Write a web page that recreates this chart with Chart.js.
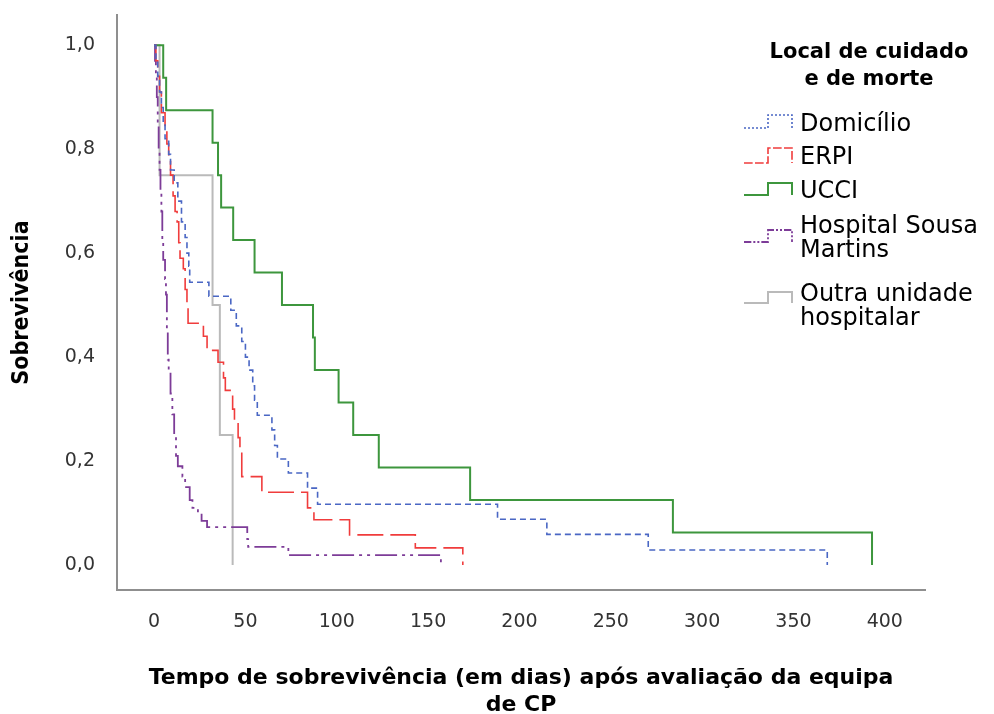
<!DOCTYPE html>
<html>
<head>
<meta charset="utf-8">
<script src="https://cdn.jsdelivr.net/npm/chart.js@4.4.1/dist/chart.umd.min.js"></script>
<style>
  html, body { margin: 0; padding: 0; background: #fff; }
  #wrap { position: relative; width: 994px; height: 714px; }
</style>
</head>
<body>
<div id="wrap"><canvas id="chart"></canvas></div>
<script>
// Curvas de Kaplan-Meier (dia do evento -> sobrevivência após o evento)
const domicilioDias = [0, 1, 2, 3, 4, 5, 6, 8, 9, 11, 13, 15, 17, 18, 19, 19.5, 30, 42, 45, 48, 50, 52, 54, 55, 56.5, 64.5, 66, 67.5, 73.5, 84, 89.5, 188, 215, 270.5, 368.5];
const domicilioSobrev = [1, 0.97, 0.94, 0.91, 0.88, 0.85, 0.82, 0.79, 0.76, 0.735, 0.70, 0.66, 0.63, 0.60, 0.575, 0.544, 0.517, 0.49, 0.46, 0.43, 0.40, 0.375, 0.345, 0.317, 0.288, 0.26, 0.23, 0.204, 0.177, 0.148, 0.117, 0.088, 0.059, 0.029, 0];

const erpiDias = [0, 1, 2, 3, 4, 6, 7, 8, 9, 10.4, 11.5, 12.6, 13.5, 14.2, 16, 17, 18, 18.6, 27, 29, 35, 38, 39, 43, 44, 46, 47, 48, 59, 84, 87.5, 107, 143, 169];
const erpiSobrev = [1, 0.97, 0.94, 0.91, 0.87, 0.84, 0.81, 0.785, 0.75, 0.71, 0.68, 0.66, 0.62, 0.59, 0.57, 0.53, 0.50, 0.465, 0.44, 0.413, 0.39, 0.36, 0.336, 0.30, 0.273, 0.245, 0.215, 0.17, 0.14, 0.11, 0.087, 0.058, 0.033, 0];

const ucciDias = [0, 5, 6.6, 32, 35, 36.7, 43.3, 55, 70, 87, 88, 101, 109, 123, 173, 284, 393];
const ucciSobrev = [1, 0.9375, 0.875, 0.8125, 0.75, 0.6875, 0.625, 0.5625, 0.5, 0.4375, 0.375, 0.3125, 0.25, 0.1875, 0.125, 0.0625, 0];

const hsmDias = [0, 0.5, 1, 1.5, 2, 2.5, 3, 3.5, 4, 4.5, 5, 6, 6.5, 7, 7.5, 8, 9, 10, 11, 12, 13, 15.5, 17, 19.5, 21, 24, 26, 29, 51, 51.5, 73.5, 157];
const hsmSobrev = [1, 0.97, 0.94, 0.90, 0.85, 0.80, 0.76, 0.72, 0.68, 0.62, 0.587, 0.55, 0.52, 0.45, 0.395, 0.375, 0.33, 0.29, 0.25, 0.21, 0.19, 0.17, 0.15, 0.125, 0.11, 0.10, 0.085, 0.073, 0.05, 0.035, 0.019, 0];

const outraDias = [0, 3, 32, 36, 43];
const outraSobrev = [1, 0.75, 0.5, 0.25, 0];

const xTicks = [0, 50, 100, 150, 200, 250, 300, 350, 400];
const yTicks = [0, 0.2, 0.4, 0.6, 0.8, 1.0];

const series = [
    { label: 'Domicílio', dias: domicilioDias, sobrev: domicilioSobrev, color: '#4a67c4', width: 1.6, dash: [6, 4] },
    { label: 'ERPI', dias: erpiDias, sobrev: erpiSobrev, color: '#f03c3c', width: 1.6, dash: [26, 7] },
    { label: 'UCCI', dias: ucciDias, sobrev: ucciSobrev, color: '#3d963d', width: 2, dash: [] },
    { label: ['Hospital Sousa', 'Martins'], dias: hsmDias, sobrev: hsmSobrev, color: '#7d3c98', width: 1.8, dash: [22, 5, 3, 5, 3, 5] },
    { label: ['Outra unidade', 'hospitalar'], dias: outraDias, sobrev: outraSobrev, color: '#bababa', width: 2, dash: [] }
];

const FONT = "'DejaVu Sans', sans-serif";

// Legenda com os símbolos em degrau, como no SPSS
const legendRows = [
    { text: 125, low: 128, high: 115 },
    { text: 158, low: 163, high: 148 },
    { text: 192, low: 195, high: 183 },
    { text: 227, low: 242, high: 230 },
    { text: 295, low: 303, high: 292 }
];

const kmLegend = {
    id: 'kmLegend',
    afterDraw(chart) {
        const ctx = chart.ctx;
        ctx.save();
        ctx.fillStyle = '#000';
        ctx.textAlign = 'center';
        ctx.textBaseline = 'middle';
        ctx.font = 'bold 21px ' + FONT;
        ctx.fillText('Local de cuidado', 869, 53);
        ctx.fillText('e de morte', 869, 80);

        ctx.font = '24px ' + FONT;
        ctx.textAlign = 'left';
        series.forEach((s, i) => {
            const r = legendRows[i];
            ctx.strokeStyle = s.color;
            ctx.lineWidth = s.width;
            ctx.setLineDash(s.dash.map(d => Math.max(2, d / 3)));
            ctx.beginPath();
            ctx.moveTo(744, r.low);
            ctx.lineTo(768, r.low);
            ctx.lineTo(768, r.high);
            ctx.lineTo(792, r.high);
            ctx.lineTo(792, r.low);
            ctx.stroke();
            ctx.setLineDash([]);
            ctx.fillStyle = '#000';
            const lines = Array.isArray(s.label) ? s.label : [s.label];
            lines.forEach((t, j) => ctx.fillText(t, 800, r.text + j * 24));
        });
        ctx.restore();
    }
};

const datasets = series.map(s => ({
    label: Array.isArray(s.label) ? s.label.join(' ') : s.label,
    data: s.dias.map((d, i) => ({ x: d, y: s.sobrev[i] })),
    borderColor: s.color,
    borderWidth: s.width,
    borderDash: s.dash,
    stepped: 'before',
    pointRadius: 0,
    fill: false,
    tension: 0
}));

new Chart(document.getElementById('chart'), {
    type: 'line',
    data: { datasets },
    options: {
        responsive: true,
        maintainAspectRatio: false,
        animation: false,
        layout: { padding: { top: 15, right: 69, left: 0, bottom: 0 } },
        plugins: {
            legend: { display: false },
            tooltip: { enabled: false }
        },
        scales: {
            x: {
                type: 'linear',
                min: -20.3,
                max: 422,
                afterBuildTicks: (scale) => { scale.ticks = xTicks.map(v => ({ value: v })); },
                afterFit: (scale) => {
                    scale.height = 124;
                    scale.paddingLeft = 0;
                    scale.paddingRight = 0;
                },
                ticks: {
                    padding: 13,
                    color: '#333',
                    font: { family: FONT, size: 19 },
                    callback: (v) => String(v)
                },
                grid: { display: false },
                border: { display: true, color: '#8f8f8f', width: 2 },
                title: {
                    display: true,
                    text: ['Tempo de sobrevivência (em dias) após avaliação da equipa', 'de CP'],
                    color: '#000',
                    font: { family: FONT, size: 22, weight: 'bold', lineHeight: 1.2 },
                    padding: { top: 0, bottom: -4 }
                }
            },
            y: {
                type: 'linear',
                min: -0.048,
                max: 1.058,
                afterBuildTicks: (scale) => { scale.ticks = yTicks.map(v => ({ value: v })); },
                afterFit: (scale) => {
                    scale.width = 117;
                    scale.paddingTop = 0;
                    scale.paddingBottom = 0;
                },
                ticks: {
                    padding: 14,
                    color: '#333',
                    font: { family: FONT, size: 19 },
                    callback: (v) => v.toFixed(1).replace('.', ',')
                },
                grid: { display: false },
                border: { display: true, color: '#8f8f8f', width: 2 },
                title: {
                    display: true,
                    text: 'Sobrevivência',
                    color: '#000',
                    font: { family: "'DejaVu Sans Condensed', 'DejaVu Sans', sans-serif", size: 23, weight: 'bold' },
                    padding: { top: 8, bottom: 0 }
                }
            }
        }
    },
    plugins: [kmLegend]
});
</script>
</body>
</html>
